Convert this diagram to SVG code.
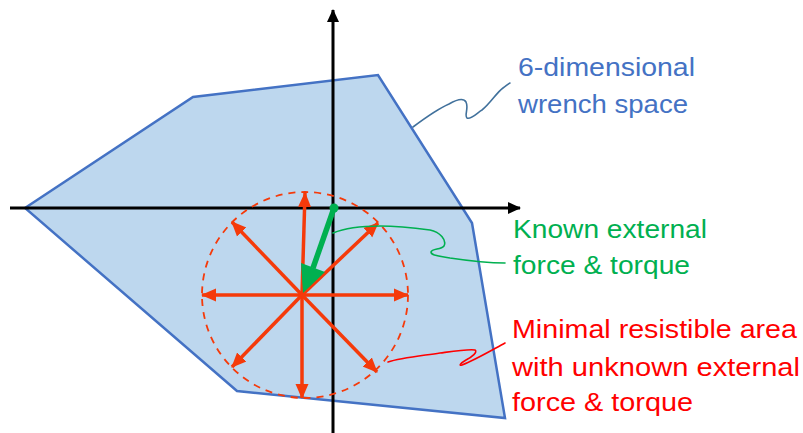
<svg xmlns="http://www.w3.org/2000/svg" width="803" height="433" viewBox="0 0 803 433">
<defs>
<style>
.lbl{font-family:"Liberation Sans",Arial,sans-serif;font-size:26px}
.ax{stroke:#000;stroke-width:3;fill:none}
.ra{stroke:#F53A0A;stroke-width:3.5;fill:none;marker-end:url(#rh)}
.note{fill:none;stroke-width:1.6;stroke-linecap:round;stroke-linejoin:round}
</style>
<marker id="ah" markerUnits="userSpaceOnUse" markerWidth="14" markerHeight="14" refX="12" refY="7" orient="auto"><path d="M0,1 L13,7 L0,13 Z" fill="#000"/></marker>
<marker id="rh" markerUnits="userSpaceOnUse" markerWidth="16" markerHeight="16" refX="14" refY="8" orient="auto"><path d="M0,1.5 L15,8 L0,14.5 Z" fill="#F53A0A"/></marker>
</defs>
<g id="wrench-space">
<polygon points="25,208 193,97 378,75 472,223 505,418 237,391" fill="#BDD7EE" stroke="#4472C4" stroke-width="2.5" stroke-linejoin="miter"/>
</g>
<g id="axes">
<line class="ax" x1="10" y1="208" x2="520" y2="208" marker-end="url(#ah)"/>
<line class="ax" x1="333" y1="433" x2="333" y2="10" marker-end="url(#ah)"/>
</g>
<g id="resistible-area">
<circle cx="305" cy="295" r="103" fill="none" stroke="#F53A0A" stroke-width="1.8" stroke-dasharray="7,6"/>
</g>
<g id="connectors">
<line class="ra" x1="302" y1="295" x2="305" y2="193"/>
<line class="ra" x1="302" y1="295" x2="302" y2="398"/>
<line class="ra" x1="302" y1="295" x2="202" y2="295"/>
<line class="ra" x1="302" y1="295" x2="408" y2="295"/>
<line class="ra" x1="302" y1="295" x2="232" y2="222"/>
<line class="ra" x1="302" y1="295" x2="378" y2="223"/>
<line class="ra" x1="302" y1="295" x2="232" y2="367"/>
<line class="ra" x1="302" y1="295" x2="377" y2="372"/>
</g>
<g id="known-force">
<line x1="334" y1="208" x2="313" y2="268" stroke="#00B050" stroke-width="5.5"/>
<polygon points="303,293 301,263 325,272" fill="#00B050"/>
<circle cx="334" cy="208" r="4.5" fill="#00B050"/>
</g>
<g id="annotations">
<path class="note" stroke="#41719C" d="M413,127 C425,118 440,108 449,104 C456,100 463,97 466,102 C469,108 464,116 467,118 C471,120 478,112 482,110 C490,104 497,92 503,88 C506,86 508,84 510,83"/>
<path class="note" stroke="#00B050" d="M333,233 C345,228 360,226 380,226 C400,226 415,228 430,230 C440,232 447,240 444,246 C441,250 432,248 431,252 C431,256 440,256 450,258 C470,261 490,263 505,263"/>
<path class="note" stroke="#FF0000" d="M388,362 C400,358 420,356 440,353 C455,351 468,349 475,350 C478,352 472,357 466,360 C461,363 458,366 462,365 C475,360 492,350 505,343"/>
</g>
<g id="labels">
<text class="lbl" fill="#4472C4" x="518" y="76" textLength="177" lengthAdjust="spacingAndGlyphs">6-dimensional</text>
<text class="lbl" fill="#4472C4" x="518" y="113" textLength="170" lengthAdjust="spacingAndGlyphs">wrench space</text>
<text class="lbl" fill="#00B050" x="513" y="238" textLength="194" lengthAdjust="spacingAndGlyphs">Known external</text>
<text class="lbl" fill="#00B050" x="513" y="274" textLength="177" lengthAdjust="spacingAndGlyphs">force &amp; torque</text>
<text class="lbl" fill="#FF0000" x="512" y="338" textLength="285" lengthAdjust="spacingAndGlyphs">Minimal resistible area</text>
<text class="lbl" fill="#FF0000" x="512" y="376" textLength="288" lengthAdjust="spacingAndGlyphs">with unknown external</text>
<text class="lbl" fill="#FF0000" x="512" y="411" textLength="181" lengthAdjust="spacingAndGlyphs">force &amp; torque</text>
</g>
</svg>
